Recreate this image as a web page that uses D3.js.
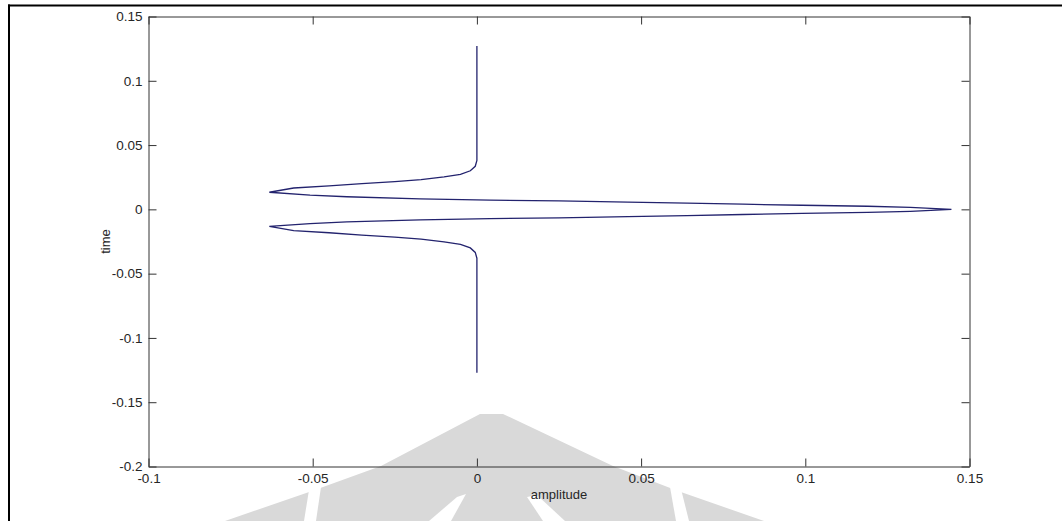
<!DOCTYPE html>
<html>
<head>
<meta charset="utf-8">
<script src="https://cdn.jsdelivr.net/npm/d3@7"></script>
<style>
  body { margin: 0; background: #fff; }
  svg { display: block; }
</style>
</head>
<body>
<div id="chart"></div>
<script>
// path of the curve (amplitude, time)
let amplitude = [0, 0, -0.0005, -0.002, -0.005, -0.010, -0.017, -0.025, -0.035, -0.045, -0.0558, -0.0632,
  -0.0508, -0.0396, -0.0173, 0.004, 0.025, 0.046, 0.064, 0.081, 0.099, 0.119, 0.132, 0.1445,
  0.132, 0.119, 0.099, 0.081, 0.064, 0.046, 0.025, 0.004, -0.0173, -0.0396, -0.0508,
  -0.0632, -0.0558, -0.045, -0.035, -0.025, -0.017, -0.010, -0.005, -0.002, -0.0005, 0, 0]

let time = [0.127, 0.038, 0.0335, 0.0300, 0.0272, 0.0253, 0.0232, 0.0216, 0.0200, 0.0182, 0.0166, 0.0133,
  0.0111, 0.0098, 0.0082, 0.0072, 0.0066, 0.0057, 0.0048, 0.0040, 0.0032, 0.0024, 0.0015, 0,
  -0.0015, -0.0024, -0.0032, -0.0040, -0.0048, -0.0057, -0.0066, -0.0072, -0.0082, -0.0098, -0.0111,
  -0.0133, -0.0166, -0.0182, -0.0200, -0.0216, -0.0232, -0.0253, -0.0272, -0.0300, -0.0335, -0.038, -0.127]

let xTicks = [-0.1, -0.05, 0, 0.05, 0.1, 0.15]
let xTickLabels = ["-0.1", "-0.05", "0", "0.05", "0.1", "0.15"]
let yTicks = [-0.2, -0.15, -0.1, -0.05, 0, 0.05, 0.1, 0.15]
let yTickLabels = ["-0.2", "-0.15", "-0.1", "-0.05", "0", "0.05", "0.1", "0.15"]

let width = 1062
let height = 521
let plot = { left: 148.5, right: 969.5, top: 16.5, bottom: 466.5 }

let svg = d3.select("#chart")
  .append("svg")
  .attr("width", width)
  .attr("height", height)

// faint logo watermark behind the plot
let wm = svg.append("g")
wm.append("polygon")
  .attr("points", "480,414 503,414 613,466 678,491 764,521 225,521 312,491 381,466")
  .attr("fill", "#d9d9d9")
let gaps = [
  "309,490 321,487 316,521 304,521",
  "670,487 681,489 689,521 676,521",
  "457,497 466,494 451,521 429,521",
  "527,497 537,495 565,521 543,521"
]
wm.selectAll(".gap")
  .data(gaps)
  .enter().append("polygon")
    .attr("points", d => d)
    .attr("fill", "#fff")

// frame lines on the picture edge
svg.append("line")
  .attr("x1", 8).attr("x2", width).attr("y1", 5.5).attr("y2", 5.5)
  .attr("stroke", "#000").attr("stroke-width", 2)
svg.append("line")
  .attr("x1", 9).attr("x2", 9).attr("y1", 4.5).attr("y2", height)
  .attr("stroke", "#000").attr("stroke-width", 2)

let x = d3.scaleLinear()
  .domain([-0.1, 0.15])
  .range([plot.left, plot.right])

let y = d3.scaleLinear()
  .domain([-0.2, 0.15])
  .range([plot.bottom, plot.top])

let fmtX = d => xTickLabels[xTicks.indexOf(d)]
let fmtY = d => yTickLabels[yTicks.indexOf(d)]

let styleAxis = g => {
  g.selectAll(".domain").attr("stroke", "#333")
  g.selectAll(".tick line").attr("stroke", "#333")
  g.selectAll("text")
    .attr("fill", "#262626")
    .style("font", "13.5px 'Liberation Sans', Arial, sans-serif")
}

svg.append("g")
  .attr("transform", `translate(0,${plot.bottom})`)
  .call(d3.axisBottom(x).tickValues(xTicks).tickFormat(fmtX).tickSizeInner(-8).tickSizeOuter(0).tickPadding(7))
  .call(styleAxis)

svg.append("g")
  .attr("transform", `translate(0,${plot.top})`)
  .call(d3.axisTop(x).tickValues(xTicks).tickFormat("").tickSizeInner(-8).tickSizeOuter(0))
  .call(styleAxis)

svg.append("g")
  .attr("transform", `translate(${plot.left},0)`)
  .call(d3.axisLeft(y).tickValues(yTicks).tickFormat(fmtY).tickSizeInner(-8).tickSizeOuter(0).tickPadding(6))
  .call(styleAxis)

svg.append("g")
  .attr("transform", `translate(${plot.right},0)`)
  .call(d3.axisRight(y).tickValues(yTicks).tickFormat("").tickSizeInner(-8).tickSizeOuter(0))
  .call(styleAxis)

let points = amplitude.map((a, i) => [a, time[i]])

let line = d3.line()
  .x(d => x(d[0]))
  .y(d => y(d[1]))

svg.append("path")
  .datum(points)
  .attr("d", line)
  .attr("fill", "none")
  .attr("stroke", "#23236e")
  .attr("stroke-width", 1.3)
  .attr("stroke-linejoin", "miter")

svg.append("text")
  .attr("x", (plot.left + plot.right) / 2)
  .attr("y", 499)
  .attr("text-anchor", "middle")
  .attr("fill", "#262626")
  .style("font", "13px 'Liberation Sans', Arial, sans-serif")
  .text("amplitude")

svg.append("text")
  .attr("transform", `translate(110,${(plot.top + plot.bottom) / 2}) rotate(-90)`)
  .attr("text-anchor", "middle")
  .attr("fill", "#262626")
  .style("font", "13px 'Liberation Sans', Arial, sans-serif")
  .text("time")
</script>
</body>
</html>
